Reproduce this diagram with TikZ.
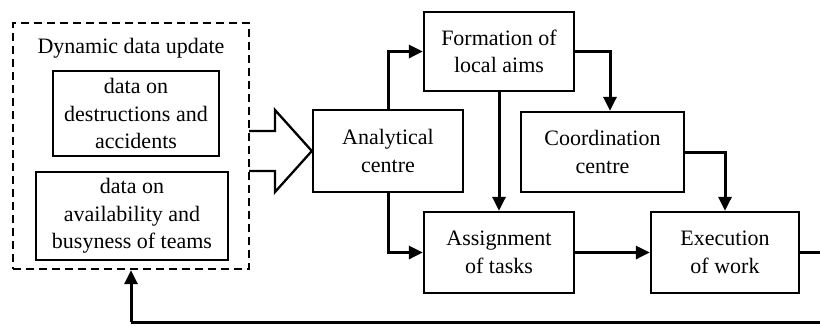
\documentclass[tikz,border=0pt]{standalone}
\usepackage{fontspec}
\setmainfont{Liberation Serif}
\usetikzlibrary{arrows.meta}
\begin{document}
\begin{tikzpicture}[x=1pt,y=-1pt,
  box/.style={draw,line width=2.3pt,align=center,inner sep=0pt,font=\fontsize{22}{27.5}\selectfont},
  arr/.style={line width=3pt,-{Triangle[length=14pt,width=13pt]}},
  plainline/.style={line width=3pt}]
\useasboundingbox (0,0) rectangle (820,325);
\node[draw,line width=2.3pt,dash pattern=on 8pt off 5pt,minimum width=236pt,minimum height=246pt,inner sep=0pt] (dyn) at (131,146) {};
\node[font=\fontsize{22}{27.5}\selectfont,inner sep=0pt] (title) at (131,48) {Dynamic data update};
\node[box,minimum width=166pt,minimum height=85pt] (d1) at (136,113.5) {data on\\destructions and\\accidents};
\node[box,minimum width=192pt,minimum height=88pt] (d2) at (132,216) {data on\\availability and\\busyness of teams};
\node[box,minimum width=150pt,minimum height=82pt] (ana) at (388,151) {Analytical\\centre};
\node[box,minimum width=150pt,minimum height=79pt] (form) at (499,51.5) {Formation of\\local aims};
\node[box,minimum width=163pt,minimum height=80pt] (coord) at (602.5,152) {Coordination\\centre};
\node[box,minimum width=150pt,minimum height=81pt] (assign) at (499,252.5) {Assignment\\of tasks};
\node[box,minimum width=148pt,minimum height=81pt] (exec) at (725,252.5) {Execution\\of work};
% hollow arrow
\draw[line width=2.3pt,line join=miter] (249,131) -- (275,131) -- (275,110) -- (ana.west) -- (275,192) -- (275,171) -- (249,171);
% connectors
\draw[arr] (ana.north) |- (form.west);
\draw[arr] (ana.south) |- (assign.west);
\draw[arr] (form.south) -- (assign.north);
\draw[arr] (form.east) -| ([xshift=7.5pt]coord.north);
\draw[arr] (coord.east) -| (exec.north);
\draw[arr] (assign.east) -- (exec.west);
\coordinate (r1) at (825,252.5);
\coordinate (r2) at (825,322);
\coordinate (r3) at (131,322);
\draw[plainline] (exec.east) -- (r1) -- (r2) -- (r3);
\draw[arr] (r3) -- (dyn.south);
\end{tikzpicture}
\end{document}
